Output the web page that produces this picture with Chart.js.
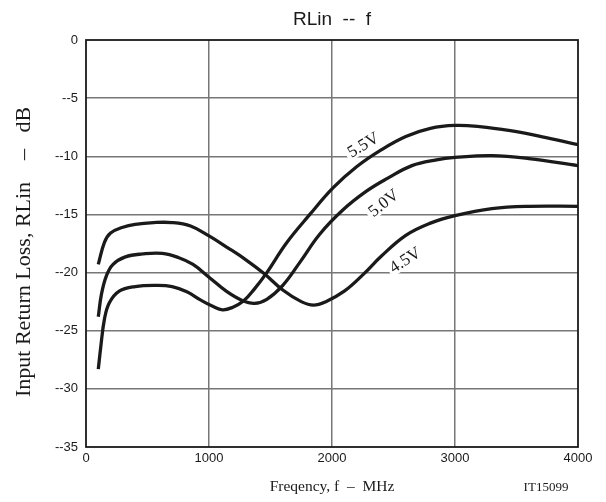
<!DOCTYPE html>
<html>
<head>
<meta charset="utf-8">
<script src="https://cdn.jsdelivr.net/npm/chart.js@4/dist/chart.umd.min.js"></script>
<style>
  html, body { margin: 0; padding: 0; background: #fff; }
  #wrap { width: 606px; height: 502px; }
</style>
</head>
<body>
<div id="wrap"><canvas id="rlChart" width="606" height="502"></canvas></div>
<script>
// frequency in MHz, return loss in dB
const freq45 = [100, 150, 200, 300, 400, 550, 700, 850, 1000, 1150, 1300, 1450, 1600, 1750, 1850, 1950, 2100, 2250, 2400, 2600, 2800, 3000, 3300, 3600, 4000];
const rl45   = [-19.3, -17.4, -16.6, -16.1, -15.85, -15.7, -15.7, -16.0, -16.85, -17.85, -18.9, -20.1, -21.5, -22.5, -22.8, -22.5, -21.6, -20.2, -18.6, -16.8, -15.75, -15.1, -14.5, -14.3, -14.3];

const freq50 = [100, 125, 165, 220, 320, 460, 620, 750, 870, 1000, 1140, 1270, 1370, 1470, 1600, 1740, 1900, 2090, 2280, 2450, 2650, 2850, 3000, 3300, 3600, 4000];
const rl50   = [-23.8, -21.9, -20.3, -19.3, -18.65, -18.4, -18.35, -18.7, -19.3, -20.4, -21.6, -22.4, -22.65, -22.3, -21.1, -19.1, -16.7, -14.6, -13.0, -11.9, -10.8, -10.3, -10.1, -9.95, -10.2, -10.8];

const freq55 = [100, 120, 150, 190, 270, 400, 570, 700, 820, 930, 1030, 1110, 1190, 1280, 1370, 1470, 1630, 1820, 2010, 2200, 2400, 2600, 2800, 3000, 3200, 3450, 3700, 4000];
const rl55   = [-28.3, -26.4, -24.0, -22.6, -21.6, -21.2, -21.1, -21.2, -21.65, -22.35, -22.9, -23.2, -23.0, -22.45, -21.4, -20.0, -17.45, -15.0, -12.7, -10.9, -9.45, -8.3, -7.6, -7.35, -7.45, -7.8, -8.3, -9.0];

const yTicks = [0, -5, -10, -15, -20, -25, -30, -35];
const xTicks = [0, 1000, 2000, 3000, 4000];

// curve labels: text, anchor (MHz, dB), rotation in degrees
const curveLabels = [
  { text: '5.5V', f: 2252, db: -9.0,  rot: -31 },
  { text: '5.0V', f: 2417, db: -14.0, rot: -38 },
  { text: '4.5V', f: 2593, db: -18.9, rot: -33 }
];

const serif = '"Liberation Serif", "DejaVu Serif", serif';
const sans = '"Liberation Sans", Arial, sans-serif';

function toPoints(xs, ys) {
  return xs.map((x, i) => ({ x: x, y: ys[i] }));
}

const lineStyle = {
  borderColor: '#1a1a1a',
  borderWidth: 3.3,
  pointRadius: 0,
  fill: false,
  tension: 0.4
};

const labelPlugin = {
  id: 'curveLabels',
  beforeDatasetsDraw(chart) {
    const { ctx, scales } = chart;
    ctx.save();
    ctx.font = '17px ' + serif;
    ctx.textAlign = 'center';
    ctx.textBaseline = 'middle';
    curveLabels.forEach(l => {
      const px = scales.x.getPixelForValue(l.f);
      const py = scales.y.getPixelForValue(l.db);
      ctx.save();
      ctx.translate(px, py);
      ctx.rotate(l.rot * Math.PI / 180);
      const w = ctx.measureText(l.text).width;
      ctx.fillStyle = '#fff';
      ctx.fillRect(-w / 2 - 3, -8, w + 6, 16);
      ctx.fillStyle = '#1a1a1a';
      ctx.fillText(l.text, 0, 1);
      ctx.restore();
    });
    ctx.restore();
  },
  afterDraw(chart) {
    const { ctx, chartArea } = chart;
    ctx.save();
    ctx.strokeStyle = '#1a1a1a';
    ctx.lineWidth = 1.8;
    ctx.strokeRect(chartArea.left, chartArea.top, chartArea.right - chartArea.left, chartArea.bottom - chartArea.top);
    ctx.fillStyle = '#1a1a1a';

    // title over the plot area
    ctx.font = '19px ' + sans;
    ctx.textAlign = 'center';
    ctx.textBaseline = 'alphabetic';
    ctx.fillText('RLin  --  f', (chartArea.left + chartArea.right) / 2, 25);

    // y axis title
    ctx.save();
    ctx.translate(30, 397);
    ctx.rotate(-Math.PI / 2);
    ctx.font = '22px ' + serif;
    ctx.textAlign = 'left';
    ctx.fillText('Input Return Loss, RLin    –   dB', 0, 0);
    ctx.restore();

    ctx.font = '13px ' + serif;
    ctx.textBaseline = 'middle';
    ctx.fillText('IT15099', 546, 488);
    ctx.restore();
  }
};

const ctx = document.getElementById('rlChart').getContext('2d');
const rlChart = new Chart(ctx, {
  type: 'line',
  data: {
    datasets: [
      Object.assign({ label: '4.5V', data: toPoints(freq45, rl45) }, lineStyle),
      Object.assign({ label: '5.0V', data: toPoints(freq50, rl50) }, lineStyle),
      Object.assign({ label: '5.5V', data: toPoints(freq55, rl55) }, lineStyle)
    ]
  },
  options: {
    responsive: false,
    animation: false,
    layout: { padding: { top: 40, right: 28, bottom: 0, left: 0 } },
    plugins: {
      legend: { display: false },
      tooltip: { enabled: false },
      title: { display: false }
    },
    scales: {
      x: {
        type: 'linear',
        min: 0,
        max: 4000,
        afterBuildTicks(scale) { scale.ticks = xTicks.map(v => ({ value: v })); },
        afterFit(scale) { scale.height = 55; },
        ticks: {
          color: '#1a1a1a',
          padding: 4,
          maxRotation: 0,
          font: { family: sans, size: 13 },
          callback: v => String(v)
        },
        grid: {
          color: ctx => (ctx.tick && (ctx.tick.value === 0 || ctx.tick.value === 4000)) ? 'rgba(0,0,0,0)' : '#777',
          lineWidth: 1.5,
          drawTicks: false
        },
        border: { display: false },
        title: {
          display: true,
          text: 'Freqency, f  –  MHz',
          color: '#1a1a1a',
          font: { family: serif, size: 15.5 },
          padding: { top: 4, bottom: 6 }
        }
      },
      y: {
        min: -35,
        max: 0,
        afterBuildTicks(scale) { scale.ticks = yTicks.map(v => ({ value: v })); },
        afterFit(scale) { scale.width = 86; },
        ticks: {
          color: '#1a1a1a',
          padding: 8,
          font: { family: sans, size: 13 },
          callback: v => (v < 0 ? '--' + Math.abs(v) : String(v))
        },
        grid: {
          color: ctx => (ctx.tick && (ctx.tick.value === 0 || ctx.tick.value === -35)) ? 'rgba(0,0,0,0)' : '#777',
          lineWidth: 1.5,
          drawTicks: false
        },
        border: { display: false },
        title: { display: false }
      }
    }
  },
  plugins: [labelPlugin]
});
</script>
</body>
</html>
